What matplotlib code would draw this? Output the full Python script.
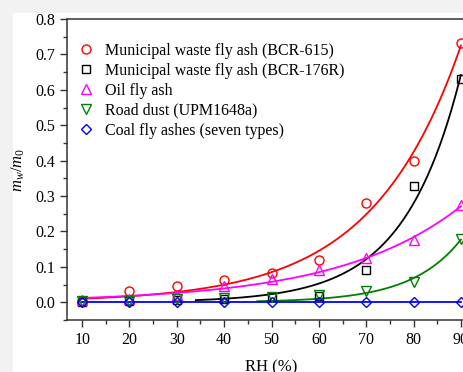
import numpy as np
import matplotlib
matplotlib.use('Agg')
import matplotlib.pyplot as plt
from matplotlib.patches import Rectangle
from matplotlib.ticker import MultipleLocator, FormatStrFormatter

# relative humidity (%)
rh = [10, 20, 30, 40, 50, 60, 70, 80, 90]
# mass ratio m_w/m_0
bcr615 = [0.005, 0.031, 0.047, 0.064, 0.083, 0.120, 0.279, 0.398, 0.733]
bcr176 = [0.002, 0.005, 0.006, 0.010, 0.015, 0.018, 0.091, 0.327, 0.630]
oil = [0.006, 0.008, 0.020, 0.045, 0.065, 0.092, 0.125, 0.175, 0.274]
road = [0.003, 0.005, 0.008, 0.013, 0.015, 0.020, 0.031, 0.056, 0.180]
coal = [0.0, 0.0, 0.0, 0.0, 0.0, 0.0, 0.0, 0.0, 0.0]

labels = ['Municipal waste fly ash (BCR-615)',
          'Municipal waste fly ash (BCR-176R)',
          'Oil fly ash',
          'Road dust (UPM1648a)',
          'Coal fly ashes (seven types)']
# x where each fitted curve starts
fit_start = [10, 34, 10, 47, 10]


def exp_fit(x, y):
    # y = A*exp(x/t), grid search on t, least squares for A
    x = np.asarray(x, float)
    y = np.asarray(y, float)
    best = None
    for t in np.linspace(3, 200, 4000):
        e = np.exp(x / t)
        a = np.sum(y * e) / np.sum(e * e)
        err = np.sum((a * e - y) ** 2)
        if best is None or err < best[0]:
            best = (err, a, t)
    _, a, t = best
    return lambda xx: a * np.exp(xx / t)


plt.rcParams['font.family'] = ['Liberation Serif', 'DejaVu Serif']
plt.rcParams['mathtext.fontset'] = 'custom'
plt.rcParams['mathtext.it'] = 'Liberation Serif:italic'
plt.rcParams['mathtext.rm'] = 'Liberation Serif'

fig = plt.figure(figsize=(4.63, 3.72), dpi=100)
fig.patch.set_facecolor('#f2f2f2')
fig.patches.append(Rectangle((13 / 463, 0), 1, 1 - 13 / 372, transform=fig.transFigure,
                             facecolor='white', edgecolor='none', zorder=-1))

ax = fig.add_axes([67 / 463, 1 - 320 / 372, 409 / 463, 301 / 372])
ax.patch.set_alpha(0)

series = [bcr615, bcr176, oil, road, coal]
colors = ['#ff0000', '#000000', '#ff00ff', '#008000', '#0000ff']
markers = ['o', 's', '^', 'v', 'D']
sizes = [6.5, 6, 7, 7, 5.5]

for ys, c, m, ms, lab, x0 in zip(series, colors, markers, sizes, labels, fit_start):
    f = exp_fit(rh, ys)
    xx = np.linspace(x0, rh[-1], 200)
    yy = f(xx) if max(ys) > 0 else np.zeros_like(xx)
    ax.plot(xx, yy, color=c, lw=1.3, zorder=2)
    ax.plot(rh, ys, linestyle='none', marker=m, ms=ms, mfc='none', mec=c,
            mew=1.0, label=lab, zorder=3)

ax.set_xlim(6.8, 93.2)
ax.set_ylim(-0.05, 0.8)
ax.xaxis.set_major_locator(MultipleLocator(10))
ax.xaxis.set_minor_locator(MultipleLocator(5))
ax.yaxis.set_major_locator(MultipleLocator(0.1))
ax.yaxis.set_minor_locator(MultipleLocator(0.05))
ax.yaxis.set_major_formatter(FormatStrFormatter('%.1f'))
ax.tick_params(which='both', direction='out', top=False, right=False,
               labelsize=11.5, width=1, color='#333333')
ax.tick_params(which='major', length=5)
ax.tick_params(which='minor', length=3)
for s in ax.spines.values():
    s.set_linewidth(1.1)
    s.set_color('#333333')

ax.set_xlabel('RH (%)', fontsize=12, labelpad=8)
ax.set_ylabel(r'$m_w/m_0$', fontsize=12, labelpad=6)

ax.legend(loc='upper left', bbox_to_anchor=(-0.005, 0.958), frameon=False,
          fontsize=11.5, handlelength=1.2, handletextpad=0.6,
          labelspacing=0.25, borderaxespad=0.3)

fig.savefig('out.png', dpi=100, facecolor=fig.get_facecolor())
